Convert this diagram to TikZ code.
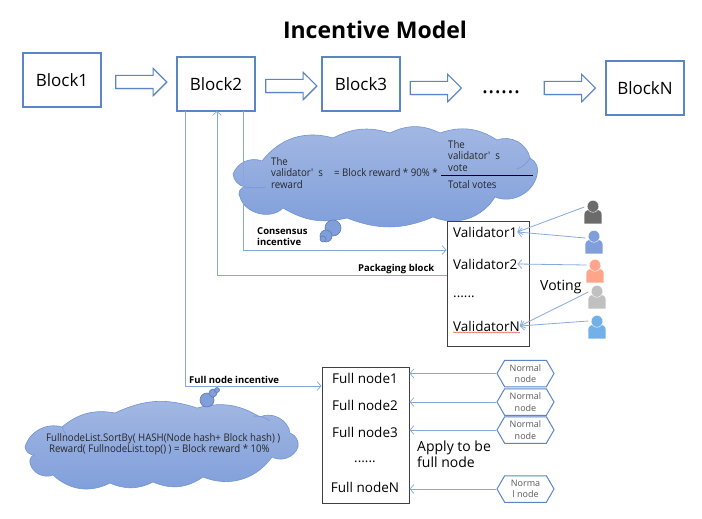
\documentclass[tikz,border=0pt]{standalone}
\usepackage{fontspec}
\setmainfont{Open Sans}
\newfontfamily\cloudfont[FakeStretch=0.92]{Open Sans}
\usetikzlibrary{arrows.meta,shapes.arrows,shapes.symbols,shadows,decorations.pathmorphing}
\definecolor{edgeblue}{HTML}{5B86C6}
\definecolor{linkblue}{HTML}{86A9DC}
\definecolor{cloudtop}{HTML}{A3B8E3}
\definecolor{cloudbot}{HTML}{7F9EDA}
\definecolor{cloudline}{HTML}{7094D2}
\definecolor{personA}{HTML}{6B6B6B}
\definecolor{personB}{HTML}{7F9EDA}
\definecolor{personC}{HTML}{FFA58C}
\definecolor{personD}{HTML}{C0C0C0}
\definecolor{personE}{HTML}{72B0E8}
\definecolor{squiggle}{HTML}{E8503A}
\newcommand{\fs}[2]{\fontsize{#1}{#2}\selectfont}
\newcommand{\personicon}[3]{% name, centre, colour
  \node[inner sep=0pt,minimum width=17pt,minimum height=23pt] (#1) at (#2) {};
  \fill[#3] (#1.south west) -- ([yshift=9pt]#1.south west)
     .. controls ([xshift=0pt,yshift=13pt]#1.south west) and ([xshift=4pt,yshift=14pt]#1.south west) .. ([xshift=6pt,yshift=14pt]#1.south west)
     -- ([xshift=-6pt,yshift=14pt]#1.south east)
     .. controls ([xshift=-4pt,yshift=14pt]#1.south east) and ([yshift=13pt]#1.south east) .. ([yshift=9pt]#1.south east)
     -- (#1.south east) -- cycle;
  \fill[#3,draw=white,line width=.4pt] ([yshift=-6pt]#1.north) ellipse [x radius=5.8pt,y radius=6pt];
}
\tikzset{
  x=1pt,y=-1pt,
  block/.style={draw=edgeblue,line width=1.1pt,fill=white,minimum width=78pt,minimum height=54pt,inner sep=0pt,font=\fs{17}{19},drop shadow={opacity=.4,shadow xshift=1pt,shadow yshift=-1pt}},
  flow/.style={single arrow,draw=edgeblue,line width=1.1pt,fill=white,minimum width=23pt,minimum height=51pt,single arrow head indent=0pt,inner xsep=0pt,inner ysep=6pt,drop shadow={opacity=.35,shadow xshift=.8pt,shadow yshift=-.8pt}},
  listbox/.style={draw=black!75,line width=1pt,fill=white,inner sep=0pt,drop shadow={opacity=.3,shadow xshift=.8pt,shadow yshift=-.8pt}},
  listitem/.style={inner sep=0pt,font=\fs{13.5}{16}},
  link/.style={draw=linkblue,line width=.8pt,-{Straight Barb[length=4pt,width=9pt,line width=.7pt]}},
  bold label/.style={inner sep=0pt,align=left,font=\fs{9.5}{11}\bfseries},
  cloud text/.style={inner sep=0pt,align=left,font=\cloudfont\fs{10.5}{11.4},text=black!85},
  cloudfill/.style={draw=cloudline,line width=.6pt,top color=cloudtop,bottom color=cloudbot},
  puff/.style={circle,inner sep=0pt,draw=cloudline!85!black,line width=.6pt,fill=cloudbot},
  inner arc/.style={draw=cloudline,line width=.5pt},
  hexnode/.style={draw=edgeblue,line width=1pt,fill=white,minimum width=57pt,minimum height=26.5pt,inner sep=0pt,align=center,text=black!65,font=\fs{9}{11.4},signal,signal to=west and east,signal pointer angle=120},
}
\begin{document}
\begin{tikzpicture}
\useasboundingbox (0,0) rectangle (702,519);
% title
\node[inner sep=0pt,font=\fs{23}{28}\bfseries] (title) at (375,30) {Incentive Model};
% blocks
\node[block] (b1) at (62,80) {Block1};
\node[block] (b2) at (216,84) {Block2};
\node[block] (b3) at (361,84) {Block3};
\node[block] (bN) at (645,88) {BlockN};
\node[flow] (f1) at (138,82) {};
\node[flow] (f2) at (288,86) {};
\node[flow] (f3) at (432.5,88) {};
\node[flow] (f4) at (566.5,88) {};
\node[inner sep=0pt,anchor=base,font=\fs{24}{26}] (dots) at (501,93) {......};

% cloud 1
\path[cloudfill] (262,161)
  to[bend left=34] (333,138) to[bend left=22] (390,133) to[bend left=26] (440,133)
  to[bend left=26] (497,140) to[bend left=50] (530,158) to[bend left=40] (537,175)
  to[bend left=50] (495,197) to[bend left=40] (433,217) to[bend left=22] (347,218)
  to[bend left=22] (283,208) to[bend left=60] (240,197) to[bend left=70] (245,187)
  to[bend left=35] (233,174) to[bend left=45] (262,161) -- cycle;
\draw[inner arc] (245,187) to[bend right=8] (266,187);
\draw[inner arc] (517,169) to[bend right=20] (530,158);
\node[puff,minimum size=16pt] (c1a) at (333,228) {};
\node[puff,minimum size=12pt] (c1b) at (326,236) {};
\node[puff,minimum size=6pt] (c1c) at (323,239) {};
\node[cloud text,anchor=west] (t1) at (271,173) {The\\validator'\ \ s\\reward};
\node[cloud text,anchor=west] (t2) at (334,173) {= Block reward * 90\% *};
\node[cloud text,anchor=south west] (t3) at (448,171.5) {The\\validator'\ \ s\\vote};
\node[cloud text,anchor=west] (t4) at (448,185) {Total votes};
\coordinate (fracL) at (441,175);
\coordinate (fracR) at (533,175);
\draw[black,line width=.7pt] (fracL) -- (fracR);

% cloud 2
\path[cloudfill] (62,427)
  to[bend left=25] (115,413) to[bend left=22] (197,408) to[bend left=23] (260,417)
  to[bend left=55] (290,433) to[bend left=40] (298,447) to[bend left=50] (272,457)
  to[bend left=38] (203,477) to[bend left=29] (153,482) to[bend left=25] (110,483)
  to[bend left=35] (53,475) to[bend left=50] (30,463) to[bend left=40] (34,455)
  to[bend left=40] (25,447) to[bend left=45] (62,427) -- cycle;
\draw[inner arc] (62,427) to[bend right=15] (66,434);
\draw[inner arc] (253,416) to[bend left=20] (270,421);
\node[puff,minimum size=14pt] (c2a) at (207,400) {};
\node[puff,minimum size=8pt] (c2b) at (213,393) {};
\node[puff,minimum size=5pt] (c2c) at (217,390) {};
\node[cloud text,anchor=west] (t5) at (46,439) {FullnodeList.SortBy( HASH(Node hash+ Block hash) )};
\node[cloud text,anchor=west] (t6) at (49,450) {Reward( FullnodeList.top() ) = Block reward * 10\%};

% validator list
\node[listbox,minimum width=82pt,minimum height=125pt] (vbox) at (488,283.5) {};
\node[listitem,anchor=west] (v1) at (453,232) {Validator1};
\node[listitem,anchor=west] (v2) at (453,264) {Validator2};
\node[listitem,anchor=west] (v3) at (453,297) {......};
\node[listitem,anchor=west] (vN) at (453,326) {ValidatorN};
\draw[squiggle,line width=.5pt,decorate,decoration={snake,amplitude=.5pt,segment length=3pt}] ([yshift=-1pt]vN.south west) -- ([yshift=-1pt]vN.south east);

% people
\personicon{p1}{593,212}{personA}
\personicon{p2}{594,242}{personB}
\personicon{p3}{595,271}{personC}
\personicon{p4}{597,297}{personD}
\personicon{p5}{597,327}{personE}
\node[inner sep=0pt,font=\fs{14}{16},anchor=west] (voting) at (540,287) {Voting};
\draw[link] ([yshift=5pt]p1.west) -- (v1.east);
\draw[link] ([yshift=4pt]p2.west) -- (v1.east);
\draw[link] ([yshift=6pt]p3.west) -- (v2.east);
\draw[link] ([yshift=5pt]p4.west) -- (vN.east);
\draw[link] ([yshift=6pt]p5.west) -- (vN.east);

% full node list
\node[listbox,minimum width=87pt,minimum height=136pt] (fbox) at (365.5,435) {};
\node[listitem] (n1) at (365,378) {Full node1};
\node[listitem] (n2) at (365,405) {Full node2};
\node[listitem] (n3) at (365,432) {Full node3};
\node[listitem] (n4) at (365,462) {......};
\node[listitem] (nN) at (365,487) {Full nodeN};
\node[inner sep=0pt,align=left,anchor=north west,font=\fs{14}{16}] (apply) at (417,441) {Apply to be\\full node};

% normal nodes
\node[hexnode] (h1) at (525.5,373.5) {Normal\\node};
\node[hexnode] (h2) at (525.5,402) {Normal\\node};
\node[hexnode] (h3) at (525.5,430) {Normal\\node};
\node[hexnode] (h4) at (525.5,489) {Norma\\l node};
\draw[link] (h1.west) -- (h1.west -| fbox.east);
\draw[link] (h2.west) -- (h2.west -| fbox.east);
\draw[link] (h3.west) -- (h3.west -| fbox.east);
\draw[link] (h4.west) -- (h4.west -| fbox.east);

% incentive connectors
\coordinate (consX) at (243,111);
\coordinate (packX) at (217,111);
\coordinate (fullX) at (185,111);
\draw[link] (consX) -- (consX |- 0,250) -- (vbox.west |- 0,250);
\draw[link] (vbox.west |- 0,275) -- (packX |- 0,275) -- (packX);
\draw[link] (fullX) -- (fullX |- 0,386) -- (fbox.west |- 0,386);
\node[bold label,anchor=north west] (l1) at (257,227) {Consensus\\incentive};
\node[bold label,anchor=west] (l2) at (358,269) {Packaging block};
\node[bold label,anchor=west] (l3) at (189,380) {Full node incentive};
\end{tikzpicture}
\end{document}
